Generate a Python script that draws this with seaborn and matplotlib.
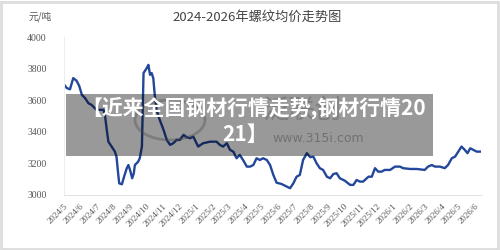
import matplotlib
matplotlib.use("Agg")
import matplotlib.pyplot as plt
from matplotlib.patches import Rectangle, Ellipse
import seaborn as sns
import pandas as pd

# ---- data ----
dates = [
    "2024-05-01", "2024-05-07", "2024-05-13", "2024-05-19", "2024-05-25", "2024-05-30",
    "2024-06-04", "2024-06-10", "2024-06-16", "2024-06-22", "2024-07-01", "2024-07-14",
    "2024-07-17", "2024-07-20", "2024-07-23", "2024-07-29", "2024-08-04", "2024-08-07",
    "2024-08-10", "2024-08-12", "2024-08-17", "2024-08-21", "2024-08-26", "2024-08-29",
    "2024-09-01", "2024-09-05", "2024-09-08", "2024-09-10", "2024-09-16", "2024-09-19",
    "2024-09-23", "2024-09-26", "2024-10-02", "2024-10-05", "2024-10-08", "2024-10-11",
    "2024-10-14", "2024-10-17", "2024-10-20", "2024-10-26", "2024-11-02", "2024-11-08",
    "2024-11-14", "2024-11-20", "2024-11-26", "2024-12-02", "2024-12-09", "2024-12-15",
    "2024-12-21", "2024-12-27", "2025-01-05", "2025-01-14", "2025-01-27", "2025-02-08",
    "2025-02-14", "2025-02-20", "2025-02-27", "2025-03-05", "2025-03-11", "2025-03-17",
    "2025-03-23", "2025-03-29", "2025-04-05", "2025-04-11", "2025-04-17", "2025-04-23",
    "2025-04-29", "2025-05-05", "2025-05-12", "2025-05-18", "2025-05-24", "2025-05-30",
    "2025-06-08", "2025-06-18", "2025-06-24", "2025-06-30", "2025-07-06", "2025-07-12",
    "2025-07-18", "2025-07-25", "2025-07-31", "2025-08-06", "2025-08-12", "2025-08-18",
    "2025-08-24", "2025-08-31", "2025-09-06", "2025-09-12", "2025-09-18", "2025-09-24",
    "2025-10-03", "2025-10-13", "2025-10-19", "2025-10-25", "2025-10-31", "2025-11-06",
    "2025-11-16", "2025-11-22", "2025-11-28", "2025-12-04", "2025-12-10", "2025-12-16",
    "2025-12-26", "2026-01-04", "2026-01-13", "2026-01-19", "2026-02-01", "2026-02-13",
    "2026-02-28", "2026-03-06", "2026-03-13", "2026-03-19", "2026-03-28", "2026-04-06",
    "2026-04-12", "2026-04-19", "2026-04-25", "2026-05-01", "2026-05-07", "2026-05-13",
    "2026-05-18", "2026-05-23", "2026-05-29", "2026-06-04", "2026-06-12",
]
prices = [
    3705, 3678, 3670, 3741, 3725, 3692,
    3635, 3614, 3582, 3571, 3540, 3540,
    3497, 3413, 3338, 3307, 3275, 3243,
    3138, 3074, 3068, 3116, 3170, 3190,
    3159, 3106, 3138, 3190, 3211, 3233,
    3307, 3773, 3805, 3825, 3762, 3773,
    3741, 3624, 3540, 3476, 3413, 3349,
    3318, 3328, 3349, 3349, 3381, 3366,
    3360, 3370, 3307, 3328, 3338, 3338,
    3318, 3307, 3328, 3286, 3275, 3233,
    3254, 3222, 3180, 3180, 3190, 3233,
    3222, 3233, 3222, 3190, 3127, 3078,
    3070, 3053, 3043, 3074, 3116, 3127,
    3222, 3265, 3240, 3243, 3201, 3170,
    3159, 3116, 3106, 3133, 3138, 3106,
    3091, 3064, 3064, 3095, 3085, 3085,
    3116, 3116, 3170, 3148, 3148, 3159,
    3159, 3180, 3180, 3170, 3165, 3165,
    3159, 3180, 3190, 3180, 3180, 3170,
    3190, 3233, 3243, 3275, 3307, 3286,
    3265, 3296, 3286, 3275, 3275,
]
y_ticks = [3000, 3200, 3400, 3600, 3800, 4000]
month_ticks = pd.date_range("2024-05-01", "2026-06-01", freq="MS")
month_labels = [f"{d.year}/{d.month}" for d in month_ticks]
title = "2024-2026年螺纹均价走势图"
unit = "元/吨"
banner_line1 = "【近来全国钢材行情走势,钢材行情20"
banner_line2 = "21】"
watermark_name = "泛联创"
watermark_url = "www.315i.com"

df = pd.DataFrame({"date": pd.to_datetime(dates), "price": prices})

sns.set_theme(style="white")
plt.rcParams["font.family"] = ["Noto Sans CJK SC", "DejaVu Sans"]

fig = plt.figure(figsize=(5, 2.5), dpi=100)
ax = fig.add_axes([0.127, 0.22, 0.835, 0.631])

sns.lineplot(data=df, x="date", y="price", ax=ax, color="#23479a", linewidth=1.7)

ax.set_ylim(3000, 4000)
ax.set_xlim(pd.Timestamp("2024-05-01"), pd.Timestamp("2026-06-12"))
ax.set_yticks(y_ticks)
ax.set_yticklabels([str(v) for v in y_ticks], fontsize=7, color="#555555",
                   family=["Liberation Serif", "DejaVu Serif"])
ax.set_xticks(month_ticks)
ax.set_xticklabels(month_labels, rotation=45, ha="right", rotation_mode="anchor",
                   fontsize=6.5, color="#555555", family=["Liberation Serif", "DejaVu Serif"])
ax.tick_params(axis="x", length=3, width=0.6, color="#dddddd", pad=2, direction="out")
ax.tick_params(axis="y", length=0, pad=12)
ax.set_xlabel("")
ax.set_ylabel("")
for s in ["top", "right"]:
    ax.spines[s].set_visible(False)
ax.spines["left"].set_color("#eeeeee")
ax.spines["bottom"].set_color("#e3e3e3")
ax.spines["left"].set_linewidth(0.8)
ax.spines["bottom"].set_linewidth(0.8)

fig.text(0.514, 0.93, title, ha="center", va="center", fontsize=9.5, color="#444444")
fig.text(0.08, 0.935, unit, ha="center", va="center", fontsize=7, color="#555555")

# outer frame
fig.patches.append(Rectangle((0.002, 0.004), 0.994, 0.99, transform=fig.transFigure,
                             fill=False, edgecolor="#dddddd", linewidth=2))

# watermark
fig.patches.append(Ellipse((170 / 500, 1 - 120 / 250), 70 / 500, 40 / 250,
                           transform=fig.transFigure, fill=False,
                           edgecolor="#7a7a7a", linewidth=2, alpha=0.35, zorder=5))
fig.text(302 / 500, 1 - 110 / 250, watermark_name, ha="center", va="center", fontsize=19,
         color="#6f6f6f", alpha=0.3, zorder=6)
fig.text(318 / 500, 1 - 138 / 250, watermark_url, ha="center", va="center", fontsize=9,
         color="#6f6f6f", alpha=0.45, zorder=6, family="DejaVu Sans")

# banner overlay
fig.patches.append(Rectangle((66 / 500, 1 - 156 / 250), 367 / 500, 62 / 250,
                             transform=fig.transFigure, facecolor="#000000",
                             alpha=0.4, edgecolor="none", zorder=7))
fig.text(254 / 500, 1 - 108 / 250, banner_line1, ha="center", va="center", fontsize=15,
         color="white", fontweight="bold", zorder=8)
fig.text(245 / 500, 1 - 134 / 250, banner_line2, ha="center", va="center", fontsize=15,
         color="white", fontweight="bold", zorder=8)

fig.savefig("out.png", dpi=100, facecolor="white")
